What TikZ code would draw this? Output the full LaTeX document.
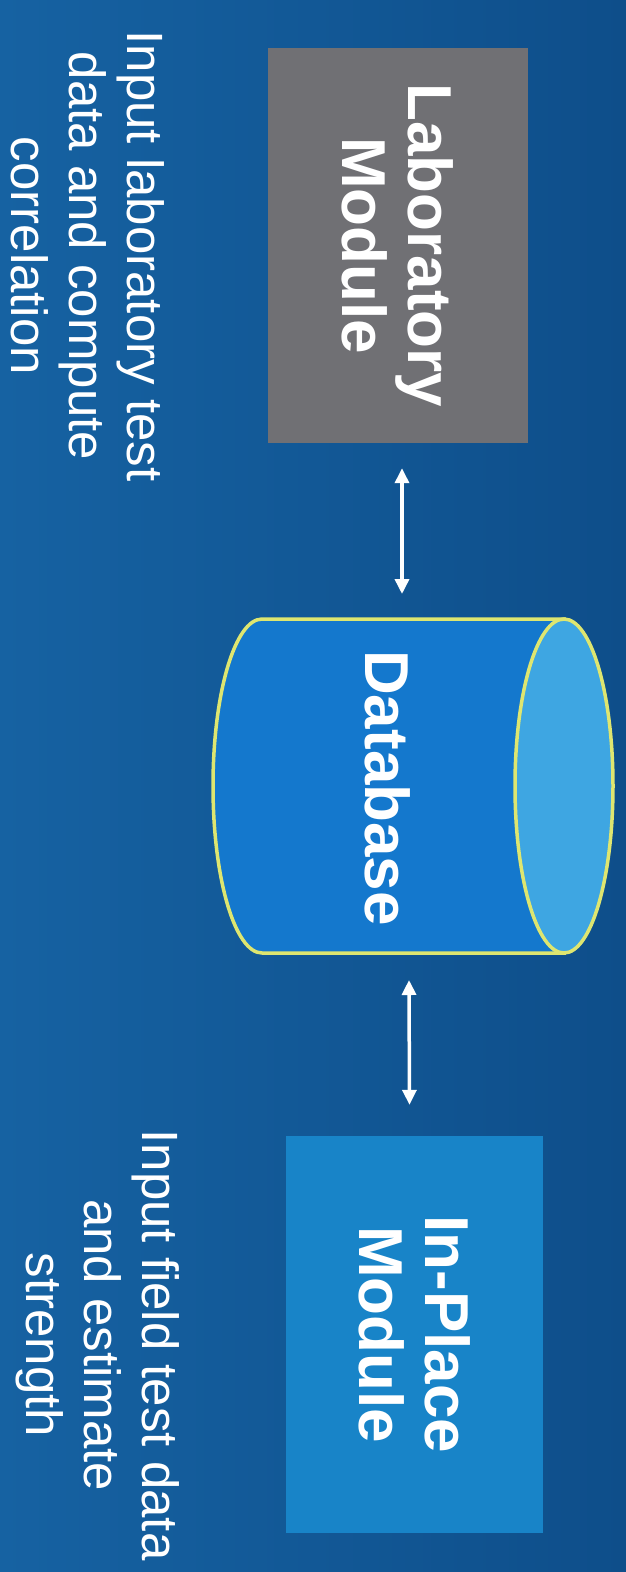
\documentclass[tikz,border=0pt]{standalone}
\usepackage{fontspec}
\setmainfont{Liberation Sans}
\usetikzlibrary{arrows.meta}
\definecolor{bgleft}{RGB}{22,98,162}
\definecolor{bgright}{RGB}{14,78,138}
\definecolor{labgray}{RGB}{112,112,116}
\definecolor{inpblue}{RGB}{24,132,200}
\definecolor{dbbody}{RGB}{20,120,205}
\definecolor{dbcap}{RGB}{62,166,226}
\definecolor{dbline}{RGB}{222,230,112}

\begin{document}
\begin{tikzpicture}[x=1pt,y=-1pt,>={Triangle[width=14pt,length=15pt]},
  modbox/.style={rotate=-90,inner sep=0pt,text=white,align=center,
    font=\fontsize{62}{66}\selectfont\bfseries},
  note/.style={rotate=-90,inner sep=0pt,text=white,align=center,
    font=\fontsize{51}{58}\selectfont},
  link/.style={<->,white,line width=3.5pt}]
  \useasboundingbox (0,0) rectangle (626,1572);
  \shade[left color=bgleft,right color=bgright] (0,0) rectangle (626,1572);
  % modules
  \node[modbox,fill=labgray,minimum width=395pt,minimum height=260pt] (lab) at (398,245.5) {Laboratory\\Module};
  \node[modbox,fill=inpblue,minimum width=397pt,minimum height=257pt] (inp) at (414.5,1334.5) {In-Place\\Module};
  % database
  \filldraw[draw=dbline,fill=dbbody,line width=3.5pt] (262,619) -- (564,619) -- (564,953) -- (262,953)
    arc[start angle=270,end angle=90,x radius=49pt,y radius=167pt] -- cycle;
  \filldraw[draw=dbline,fill=dbcap,line width=3.5pt] (564,786) ellipse[x radius=49pt,y radius=167pt];
  \node[modbox] (db) at (388,788) {Database};
  \coordinate (dbtop) at (402,619);
  \coordinate (dbbot) at (409,953);
  % links
  \draw[link] ([xshift=4pt,yshift=-25pt]lab.east) -- ([yshift=25pt]dbtop);
  \draw[link] ([yshift=-27pt]dbbot) -- ([xshift=-5pt,yshift=31pt]inp.west);
  % notes
  \node[note] (labnote) at (88,256) {Input laboratory test\\data and compute\\correlation};
  \node[note] (inpnote) at (98,1345) {Input field test data\\and estimate\\strength};
\end{tikzpicture}
\end{document}
